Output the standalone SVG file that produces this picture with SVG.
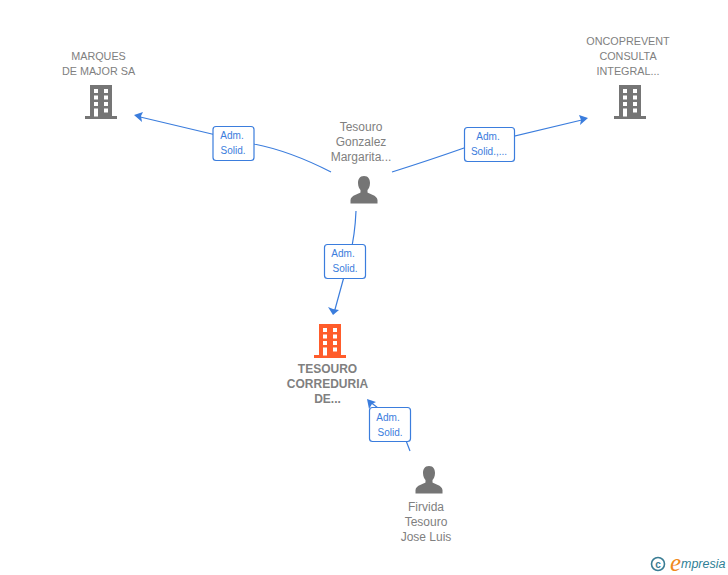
<svg xmlns="http://www.w3.org/2000/svg" width="728" height="575" viewBox="0 0 728 575">
<style>
text{font-family:"Liberation Sans",Arial,sans-serif}
.n{font-size:10.8px;fill:#808080;text-anchor:middle}
.p{font-size:12px;fill:#808080;text-anchor:middle}
.b{font-size:12px;font-weight:bold;fill:#808080;text-anchor:middle}
.l{font-size:10px;fill:#3b7ddd;text-anchor:middle}
.c{fill:none;stroke:#3b7ddd;stroke-width:1.2}
.a{fill:#3b7ddd}
.r{fill:#fff;stroke:#3b7ddd;stroke-width:1.2}
.w{fill:#fff}
</style>
<defs>
<g id="bld">
<path d="M-11 -17H11V14H16V17H-16V14H-11Z"/>
<g class="w">
<rect x="-7" y="-13" width="4" height="4"/><rect x="3" y="-13" width="4" height="4"/>
<rect x="-7" y="-6.500" width="4" height="4"/><rect x="3" y="-6.500" width="4" height="4"/>
<rect x="-7" y="0" width="4" height="4"/><rect x="3" y="0" width="4" height="4"/>
<rect x="-7" y="6.500" width="4" height="8"/><rect x="3" y="6.500" width="4" height="4"/>
</g>
</g>
<g id="per">
<path d="M0 -14C4.500 -14 6 -10.500 6 -7C6 -3.500 4.500 -1 3.500 0V2.500C5 4 13 5 13.500 10V13.500H-13.500V10C-13 5 -5 4 -3.500 2.500V0C-4.500 -1 -6 -3.500 -6 -7C-6 -10.500 -4.500 -14 0 -14Z"/>
</g>
</defs>
<g id="connectors">
<path class="c" d="M331 172Q290 151 254 144L136 116"/>
<path class="a" d="M134 115L143 112L141 116L142 122Z"/>
<path class="c" d="M392 172Q430 160 464 148L586 119"/>
<path class="a" d="M588 118L579 115L581 120L580 125Z"/>
<path class="c" d="M356 211Q355 235 350 255L334 313"/>
<path class="a" d="M333 315L328 307L333 309L339 310Z"/>
<path class="c" d="M410 451L400 425L369 401"/>
<path class="a" d="M367 399L376 402L372 404L369 409Z"/>
</g>
<g id="edge-label-1"><rect class="r" x="213" y="126.500" width="41" height="34" rx="3"/><text class="l" x="232" y="139">Adm.</text><text class="l" x="233" y="154">Solid.</text></g>
<g id="edge-label-2"><rect class="r" x="464.500" y="127.500" width="50" height="34" rx="3"/><text class="l" x="488" y="140">Adm.</text><text class="l" x="489" y="155">Solid.,...</text></g>
<g id="edge-label-3"><rect class="r" x="324.500" y="244.500" width="41" height="34" rx="3"/><text class="l" x="343" y="257">Adm.</text><text class="l" x="345" y="272">Solid.</text></g>
<g id="edge-label-4"><rect class="r" x="369.500" y="407.500" width="41" height="34" rx="3"/><text class="l" x="388" y="421">Adm.</text><text class="l" x="390" y="436">Solid.</text></g>
<g id="node-marques"><text class="n" x="98.500" y="60">MARQUES</text><text class="n" x="98.500" y="75">DE MAJOR SA</text><use href="#bld" x="101" y="102" fill="#757575"/></g>
<g id="node-oncoprevent"><text class="n" x="628" y="45">ONCOPREVENT</text><text class="n" x="628" y="60">CONSULTA</text><text class="n" x="628" y="75">INTEGRAL...</text><use href="#bld" x="630" y="102" fill="#757575"/></g>
<g id="node-tesouro-gonzalez"><text class="p" x="361" y="131">Tesouro</text><text class="p" x="361" y="146">Gonzalez</text><text class="p" x="361" y="161">Margarita...</text><use href="#per" x="364" y="190" fill="#757575"/></g>
<g id="node-tesouro-correduria"><use href="#bld" x="330" y="341" fill="#ff5c2b"/><text class="b" x="327.500" y="373">TESOURO</text><text class="b" x="327.500" y="388">CORREDURIA</text><text class="b" x="327.500" y="403">DE...</text></g>
<g id="node-firvida"><use href="#per" x="429" y="480" fill="#757575"/><text class="p" x="426" y="511">Firvida</text><text class="p" x="426" y="526">Tesouro</text><text class="p" x="426" y="541">Jose Luis</text></g>
<g id="watermark">
<circle cx="658" cy="564" r="6.500" fill="none" stroke="#3a7d94" stroke-width="1.600"/>
<text x="658" y="567.500" font-size="10" font-weight="bold" fill="#3a7d94" text-anchor="middle">c</text>
<text x="670" y="571" style="font-family:'Liberation Serif',serif" font-size="25" font-style="italic" fill="#f08a1c">e</text>
<text x="681" y="568" font-size="12.500" font-style="italic" fill="#2f7f96">mpresia</text>
</g>
</svg>
